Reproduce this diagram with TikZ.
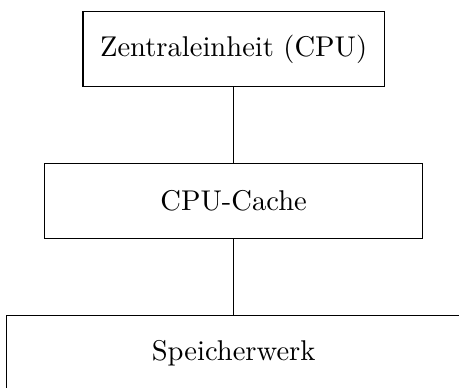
\documentclass[tikz,border=0pt]{standalone}
\usetikzlibrary{positioning}

\begin{document}
\begin{tikzpicture}[
        block/.style={
            draw=black,
            align=center,
            minimum height=26.2pt,
            inner sep=6pt
        },
        node distance=26.6pt
    ]
    \useasboundingbox (0,0) rectangle (160.7pt,-135.5pt);
    \node[block] (cpu) at (81.8pt,-17.2pt) {Zentraleinheit (CPU)};
    \node[block, minimum width=132.3pt, below=of cpu] (cache) {CPU-Cache};
    \node[block, minimum width=158.8pt, below=of cache] (mem) {Speicherwerk};
    \draw[black] (cpu) -- (cache);
    \draw[black] (cache) -- (mem);
\end{tikzpicture}
\end{document}
